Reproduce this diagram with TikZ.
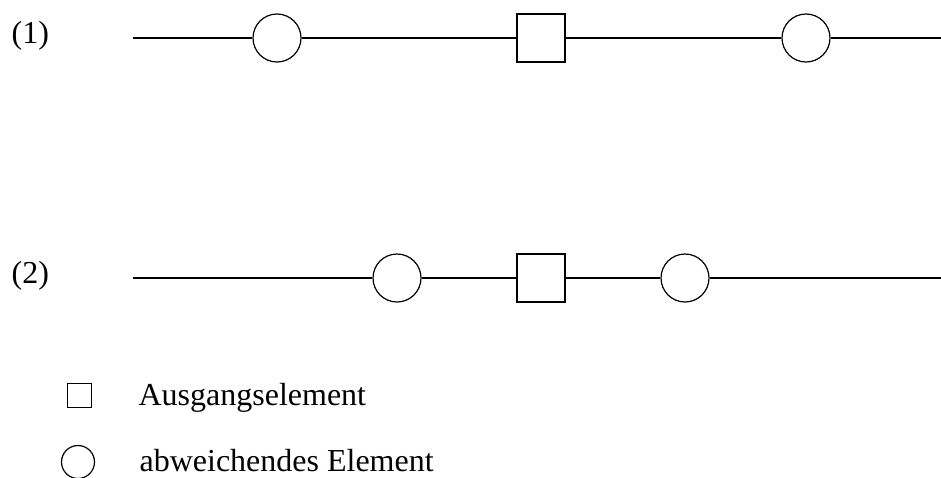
\documentclass[tikz,border=0pt]{standalone}
\usepackage{fontspec}
\setmainfont{Liberation Serif}

\begin{document}
\begin{tikzpicture}[x=1pt,y=-1pt,line width=1.2pt,
  kreis/.style={draw,circle,inner sep=0,minimum size=#1},
  quadrat/.style={draw,rectangle,inner sep=0,minimum size=#1},
  txt/.style={anchor=base west,inner sep=0,font=\fontsize{32}{36}\selectfont}]
\useasboundingbox (0,0) rectangle (941,477);
\foreach \y/\n/\a/\c in {38/1/277/806, 278/2/397/685} {
  \node[txt] (l\n) at (11,\y+5) {(\n)};
  \coordinate (s\n) at (133,\y);
  \coordinate (e\n) at (941,\y);
  \node[kreis=48] (a\n) at (\a,\y) {};
  \node[quadrat=48] (b\n) at (541,\y) {};
  \node[kreis=48] (c\n) at (\c,\y) {};
  \draw (s\n) -- (a\n) -- (b\n) -- (c\n) -- (e\n);
}
\node[quadrat=24] (qa) at (79.5,395.5) {};
\node[kreis=33] (ka) at (78,462) {};
\node[txt] (ta) at (138,405) {Ausgangselement};
\node[txt] (tb) at (139,471) {abweichendes Element};
\end{tikzpicture}
\end{document}
